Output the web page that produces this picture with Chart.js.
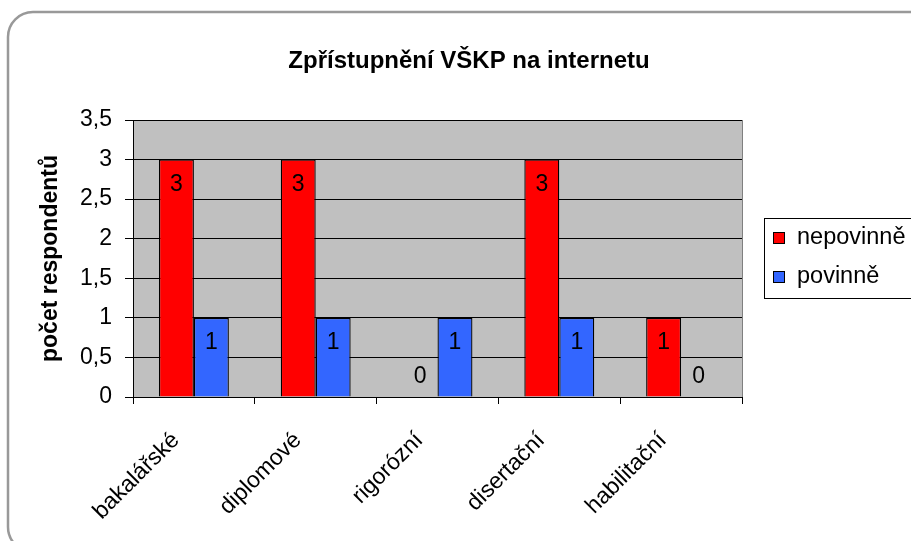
<!DOCTYPE html>
<html>
<head>
<meta charset="utf-8">
<script src="https://cdn.jsdelivr.net/npm/chart.js@4.4.1/dist/chart.umd.min.js"></script>
<style>
  html, body { margin: 0; padding: 0; background: #fff; overflow: hidden; }
  #wrap { width: 911px; height: 541px; }
</style>
</head>
<body>
<div id="wrap"><canvas id="chart" width="911" height="541"></canvas></div>
<script>
const chartTitle = "Zpřístupnění VŠKP na internetu";
const axisTitle = "počet respondentů";
const categories = ["bakalářské", "diplomové", "rigorózní", "disertační", "habilitační"];
const seriesNames = ["nepovinně", "povinně"];
const nepovinne = [3, 3, 0, 3, 1];
const povinne = [1, 1, 1, 1, 0];
const yTickLabels = ["0", "0,5", "1", "1,5", "2", "2,5", "3", "3,5"];

const FONT = "'Liberation Sans', Arial, sans-serif";

// frame, plot background, title, legend
const decor = {
  id: "decor",
  beforeDraw(chart) {
    const { ctx, chartArea: a } = chart;
    ctx.save();
    ctx.fillStyle = "#fff";
    ctx.fillRect(0, 0, chart.width, chart.height);
    ctx.strokeStyle = "#999";
    ctx.lineWidth = 2.5;
    ctx.beginPath();
    ctx.roundRect(8, 12, 930, 540, 25);
    ctx.stroke();
    ctx.fillStyle = "#c0c0c0";
    ctx.fillRect(a.left, a.top, a.right - a.left, a.bottom - a.top);
    ctx.restore();
  },
  afterDraw(chart) {
    const { ctx, chartArea: a } = chart;
    ctx.save();
    // right edge of plot
    ctx.strokeStyle = "#808080";
    ctx.lineWidth = 1;
    ctx.beginPath();
    ctx.moveTo(a.right + 0.5, a.top);
    ctx.lineTo(a.right + 0.5, a.bottom);
    ctx.stroke();

    ctx.fillStyle = "#000";
    ctx.font = "bold 24px " + FONT;
    ctx.textAlign = "center";
    ctx.textBaseline = "middle";
    ctx.fillText(chartTitle, 469, 61);

    // legend
    ctx.strokeStyle = "#000";
    ctx.strokeRect(764.5, 218.5, 170, 80);
    ctx.font = "23.5px " + FONT;
    ctx.textAlign = "left";
    chart.data.datasets.forEach((ds, i) => {
      const y = 232 + i * 39;
      ctx.fillStyle = ds.backgroundColor;
      ctx.fillRect(773, y, 11, 11);
      ctx.strokeRect(773.5, y + 0.5, 11, 11);
      ctx.fillStyle = "#000";
      ctx.fillText(ds.label, 797, y + 6);
    });
    ctx.restore();
  },
  afterDatasetsDraw(chart) {
    const { ctx } = chart;
    ctx.save();
    ctx.fillStyle = "#000";
    ctx.font = "23px " + FONT;
    ctx.textAlign = "center";
    ctx.textBaseline = "middle";
    chart.data.datasets.forEach((ds, i) => {
      chart.getDatasetMeta(i).data.forEach((bar, j) => {
        const v = ds.data[j];
        const y = v > 0 ? bar.y + 25 : bar.base - 20;
        ctx.fillText(String(v), bar.x, y);
      });
    });
    ctx.restore();
  }
};

new Chart(document.getElementById("chart"), {
  type: "bar",
  data: {
    labels: categories,
    datasets: [
      {
        label: seriesNames[0],
        data: nepovinne,
        backgroundColor: "#ff0000",
        borderColor: "#000",
        borderWidth: 1.3,
      },
      {
        label: seriesNames[1],
        data: povinne,
        backgroundColor: "#3366ff",
        borderColor: "#000",
        borderWidth: 1.3,
      },
    ],
  },
  options: {
    responsive: false,
    animation: false,
    layout: { padding: { top: 120, right: 169, bottom: 0, left: 0 } },
    datasets: { bar: { barPercentage: 1, categoryPercentage: 0.574 } },
    plugins: {
      legend: { display: false },
      title: { display: false },
      tooltip: { enabled: false },
    },
    scales: {
      x: {
        grid: { drawOnChartArea: false, color: "#000", tickLength: 7, offset: true },
        border: { color: "#000" },
        ticks: {
          color: "#000",
          font: { family: FONT, size: 23 },
          maxRotation: 45,
          minRotation: 45,
          padding: 23,
          labelOffset: -18,
        },
        afterFit: (s) => { s.height = 144; },
      },
      y: {
        min: 0,
        max: 3.5,
        grid: { color: "#000", tickLength: 8 },
        border: { color: "#000" },
        ticks: {
          stepSize: 0.5,
          color: "#000",
          font: { family: FONT, size: 23 },
          padding: 13,
          callback: (v, i) => yTickLabels[i],
        },
        title: {
          display: true,
          text: axisTitle,
          color: "#000",
          font: { family: FONT, size: 23, weight: "bold" },
          padding: { top: 37, bottom: 0 },
        },
        afterFit: (s) => { s.width = 133; },
      },
    },
  },
  plugins: [decor],
});
</script>
</body>
</html>
